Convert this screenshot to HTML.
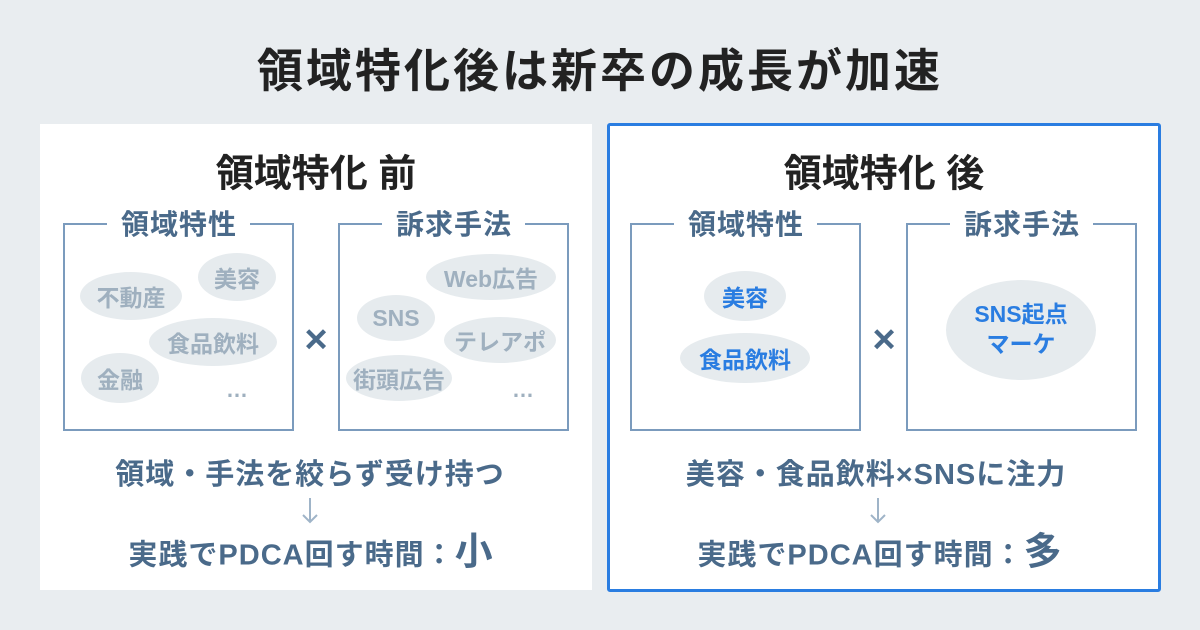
<!DOCTYPE html>
<html><head><meta charset="utf-8"><style>
*{margin:0;padding:0;box-sizing:border-box}
body{width:1200px;height:630px;background:#e9edf0;position:relative;overflow:hidden;font-family:"Liberation Sans","Noto Sans CJK JP",sans-serif;font-weight:bold}
.c{position:absolute;transform:translate(-50%,-50%);white-space:nowrap;text-align:center}
.panel{position:absolute;background:#fff}
.box{position:absolute;border:2px solid #7b9bbd;border-top:none}
.bt{position:absolute;height:2px;background:#7b9bbd}
.lab{color:#4a6a8a;font-size:28px;letter-spacing:1px}
.el{position:absolute;transform:translate(-50%,-50%);background:#e6ebee;border-radius:50%;display:flex;align-items:center;justify-content:center;color:#9fb0bf;font-size:23px;white-space:nowrap}
.b{color:#2a7de1}
.dk{color:#4a6a8a}
.big{font-size:29px;letter-spacing:1px}
</style></head><body>
<div class="c" style="left:600px;top:68px;font-size:46px;letter-spacing:3px;color:#222">領域特化後は新卒の成長が加速</div>

<div class="panel" style="left:40px;top:124px;width:552px;height:466px"></div>
<div class="panel" style="left:607px;top:123px;width:554px;height:469px;border:3px solid #2a7de1;border-radius:3px"></div>

<div class="c" style="left:316px;top:170px;font-size:38px;color:#222">領域特化 前</div>
<div class="c" style="left:884px;top:170px;font-size:38px;color:#222">領域特化 後</div>

<div class="box" style="left:63px;top:223px;width:231px;height:208px"></div>
<div class="bt" style="left:63px;top:223px;width:44px"></div><div class="bt" style="left:250px;top:223px;width:44px"></div>
<div class="c lab" style="left:179px;top:223px">領域特性</div>

<div class="box" style="left:338px;top:223px;width:231px;height:208px"></div>
<div class="bt" style="left:338px;top:223px;width:44px"></div><div class="bt" style="left:525px;top:223px;width:44px"></div>
<div class="c lab" style="left:454px;top:223px">訴求手法</div>

<div class="box" style="left:630px;top:223px;width:231px;height:208px"></div>
<div class="bt" style="left:630px;top:223px;width:44px"></div><div class="bt" style="left:817px;top:223px;width:44px"></div>
<div class="c lab" style="left:746px;top:223px">領域特性</div>

<div class="box" style="left:906px;top:223px;width:231px;height:208px"></div>
<div class="bt" style="left:906px;top:223px;width:44px"></div><div class="bt" style="left:1093px;top:223px;width:44px"></div>
<div class="c lab" style="left:1022px;top:223px">訴求手法</div>

<div class="el" style="left:131px;top:296px;width:102px;height:48px">不動産</div>
<div class="el" style="left:237px;top:277px;width:78px;height:48px">美容</div>
<div class="el" style="left:213px;top:342px;width:128px;height:48px">食品飲料</div>
<div class="el" style="left:120px;top:378px;width:78px;height:50px">金融</div>
<div class="c" style="left:237px;top:390px;color:#9fb0bf;font-size:22px">…</div>
<div class="el" style="left:491px;top:277px;width:130px;height:46px">Web広告</div>
<div class="el" style="left:396px;top:318px;width:78px;height:46px">SNS</div>
<div class="el" style="left:500px;top:340px;width:112px;height:46px">テレアポ</div>
<div class="el" style="left:399px;top:378px;width:106px;height:46px">街頭広告</div>
<div class="c" style="left:523px;top:390px;color:#9fb0bf;font-size:22px">…</div>
<div class="c dk" style="left:316px;top:340px;font-size:40px">×</div>

<div class="el b" style="left:745px;top:296px;width:82px;height:50px">美容</div>
<div class="el b" style="left:745px;top:358px;width:130px;height:50px">食品飲料</div>
<div class="el b" style="left:1021px;top:330px;width:150px;height:100px;line-height:1.3;text-align:center">SNS起点<br>マーケ</div>
<div class="c dk" style="left:884px;top:340px;font-size:40px">×</div>

<div class="c dk big" style="left:310px;top:472px">領域・手法を絞らず受け持つ</div>
<svg style="position:absolute;left:300px;top:497px" width="20" height="28"><path d="M10 1V25M3 18L10 25L17 18" stroke="#9fb4c8" stroke-width="2" fill="none"/></svg>
<div class="c dk big" style="left:311px;top:548px">実践でPDCA回す時間：<span style="font-size:38px">小</span></div>

<div class="c dk big" style="left:876px;top:472px">美容・食品飲料×SNSに注力</div>
<svg style="position:absolute;left:868px;top:497px" width="20" height="28"><path d="M10 1V25M3 18L10 25L17 18" stroke="#9fb4c8" stroke-width="2" fill="none"/></svg>
<div class="c dk big" style="left:880px;top:548px">実践でPDCA回す時間：<span style="font-size:38px">多</span></div>
</body></html>
